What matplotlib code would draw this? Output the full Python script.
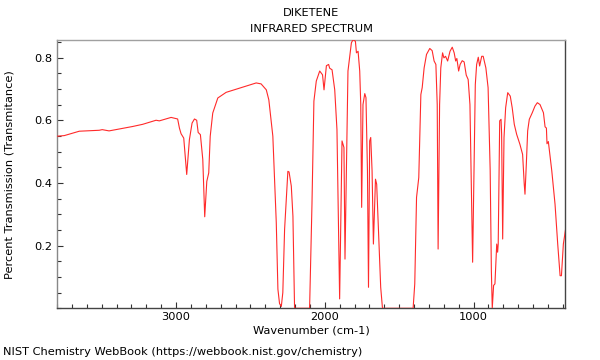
import matplotlib
matplotlib.use("Agg")
import matplotlib.pyplot as plt
from matplotlib.ticker import MultipleLocator

title_lines = ["DIKETENE", "INFRARED SPECTRUM"]
x_label = "Wavenumber (cm-1)"
y_label = "Percent Transmission (Transmitance)"
footer = "NIST Chemistry WebBook (https://webbook.nist.gov/chemistry)"

wavenumber = [
    3800, 3751, 3650, 3516, 3496, 3450, 3292, 3224, 3134, 3112, 3033, 2989,
    2977, 2966, 2948, 2928, 2910, 2892, 2876, 2861, 2851, 2836, 2820, 2807,
    2793, 2780, 2770, 2753, 2719, 2663, 2461, 2428, 2393, 2376, 2349, 2326,
    2315, 2304, 2292, 2282, 2270, 2248, 2240, 2225, 2214, 2203, 2102, 2086,
    2073, 2057, 2034, 2015, 2005, 1989, 1974, 1967, 1951, 1933, 1918, 1904,
    1900, 1884, 1871, 1864, 1853, 1844, 1821, 1810, 1794, 1787, 1776, 1765,
    1758, 1752, 1743, 1731, 1723, 1713, 1706, 1698, 1691, 1682, 1673, 1659,
    1651, 1637, 1624, 1612, 1406, 1395, 1383, 1368, 1354, 1345, 1332, 1316,
    1294, 1278, 1265, 1253, 1244, 1238, 1228, 1220, 1208, 1199, 1188, 1174,
    1158, 1143, 1130, 1120, 1112, 1100, 1090, 1076, 1063, 1049, 1036, 1024,
    1013, 1006, 997, 988, 979, 968, 959, 945, 935, 917, 902, 888,
    880, 874, 865, 856, 844, 838, 834, 824, 815, 811, 804, 795,
    784, 770, 753, 740, 726, 710, 688, 670, 659, 654, 645, 636,
    625, 605, 587, 571, 553, 530, 519, 510, 506, 497, 474, 452,
    434, 418, 409, 396, 380,
]
transmittance = [
    0.549, 0.551, 0.565, 0.568, 0.570, 0.566, 0.580, 0.587, 0.600, 0.598, 0.609, 0.604,
    0.575, 0.557, 0.543, 0.427, 0.538, 0.591, 0.604, 0.600, 0.561, 0.554, 0.475, 0.292,
    0.405, 0.432, 0.549, 0.623, 0.671, 0.689, 0.719, 0.716, 0.697, 0.665, 0.549, 0.274,
    0.061, 0.015, 0.006, 0.050, 0.252, 0.437, 0.435, 0.390, 0.294, 0.000, 0.000, 0.332,
    0.661, 0.725, 0.757, 0.745, 0.697, 0.774, 0.778, 0.766, 0.761, 0.697, 0.570, 0.146,
    0.030, 0.534, 0.513, 0.157, 0.491, 0.757, 0.847, 0.857, 0.852, 0.815, 0.820, 0.757,
    0.650, 0.322, 0.650, 0.685, 0.672, 0.439, 0.067, 0.534, 0.545, 0.439, 0.205, 0.412,
    0.396, 0.226, 0.067, 0.000, 0.000, 0.078, 0.354, 0.417, 0.682, 0.704, 0.767, 0.810,
    0.829, 0.822, 0.789, 0.778, 0.650, 0.189, 0.650, 0.767, 0.815, 0.799, 0.804, 0.789,
    0.820, 0.833, 0.815, 0.789, 0.797, 0.757, 0.778, 0.790, 0.786, 0.744, 0.730, 0.650,
    0.332, 0.147, 0.439, 0.714, 0.778, 0.801, 0.773, 0.804, 0.804, 0.767, 0.704, 0.440,
    0.120, 0.000, 0.073, 0.078, 0.205, 0.179, 0.205, 0.598, 0.603, 0.555, 0.221, 0.545,
    0.640, 0.688, 0.677, 0.640, 0.587, 0.555, 0.523, 0.491, 0.396, 0.364, 0.460, 0.566,
    0.603, 0.624, 0.645, 0.656, 0.650, 0.624, 0.579, 0.575, 0.525, 0.532, 0.439, 0.332,
    0.205, 0.104, 0.104, 0.205, 0.256,
]

y_ticks = [0.2, 0.4, 0.6, 0.8]
x_ticks = [3000, 2000, 1000]

fs = 8.2
fig = plt.figure(figsize=(6, 3.6), dpi=100)
ax = fig.add_axes([57 / 600, 1 - 308.3 / 360, (565.3 - 57) / 600, (308.3 - 40) / 360])
ax.plot(wavenumber, transmittance, color="#ff2a2a", lw=0.8, zorder=3)
ax.set_xlim(3800, 383)
ax.set_ylim(0.0, 0.856)

ax.set_xticks(x_ticks)
ax.set_yticks(y_ticks)
ax.xaxis.set_minor_locator(MultipleLocator(100))
ax.yaxis.set_minor_locator(MultipleLocator(0.05))
ax.tick_params(which="both", direction="in", labelsize=fs, colors="#333333", labelcolor="black")
ax.tick_params(which="major", length=4, width=0.8)
ax.tick_params(which="minor", length=3, width=0.8)
ax.tick_params(axis="x", pad=3)

ax.spines["top"].set_color("#a0a0a0")
ax.spines["left"].set_color("#888888")
ax.spines["right"].set_color("#444444")
ax.spines["bottom"].set_color("#444444")
for s in ax.spines.values():
    s.set_linewidth(1.0)

ax.set_xlabel(x_label, fontsize=fs, labelpad=2)
ax.set_ylabel(y_label, fontsize=fs, labelpad=14)

fig.text(311 / 600, 1 - 13 / 360, title_lines[0], ha="center", va="center", fontsize=fs)
fig.text(311 / 600, 1 - 29 / 360, title_lines[1], ha="center", va="center", fontsize=fs)
fig.text(3 / 600, 1 - 352 / 360, footer, ha="left", va="center", fontsize=fs)

fig.savefig("out.png", dpi=100)
